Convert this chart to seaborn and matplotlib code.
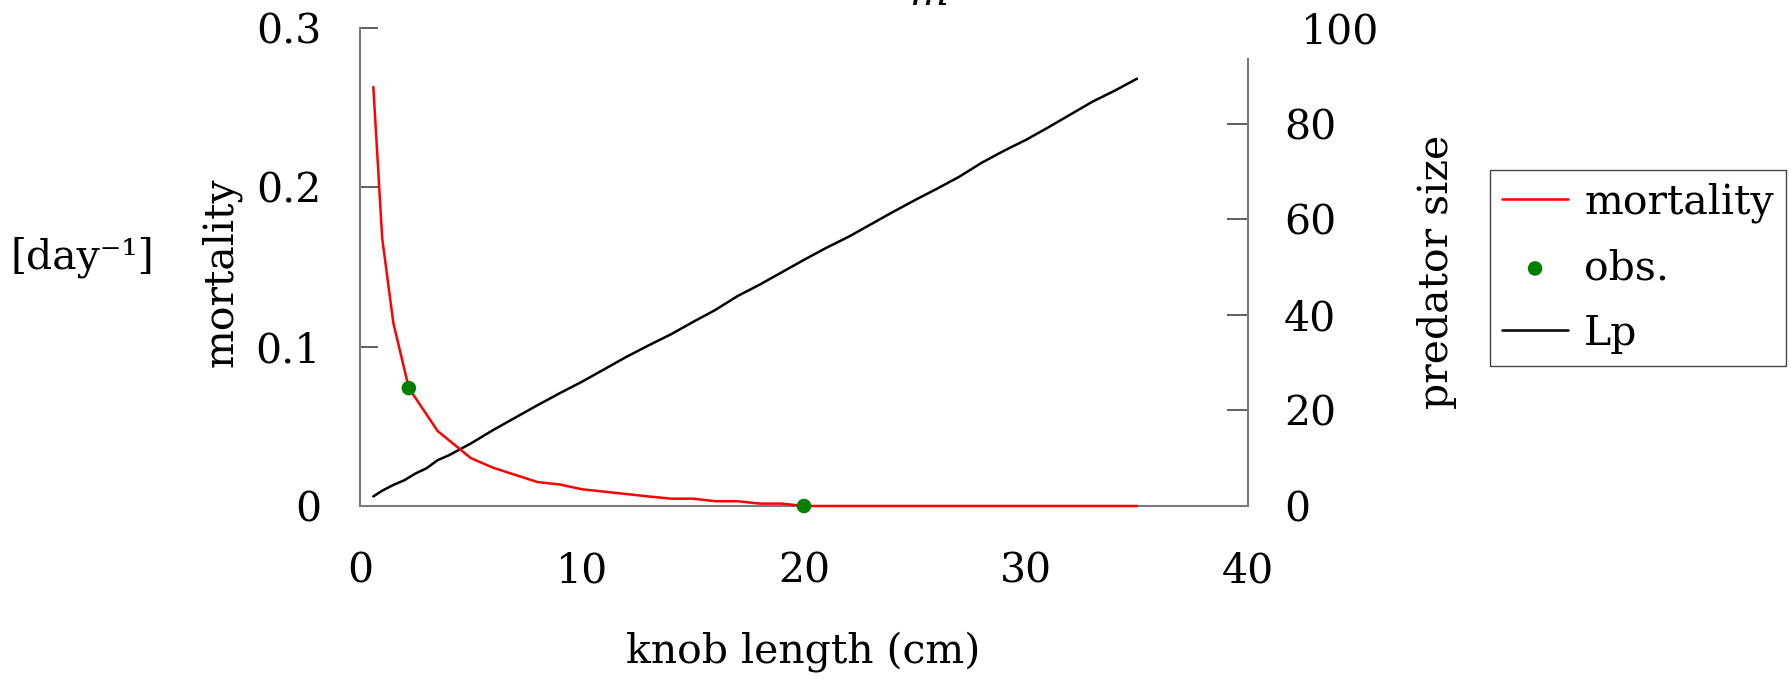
"""
Mortality and predator size against knob length, two y axes
"""
import matplotlib
matplotlib.use("Agg")
import matplotlib.pyplot as plt
from matplotlib.transforms import ScaledTranslation
import seaborn as sns
import pandas

# mortality curve [day-1] against knob length (cm)
knob_mort = [0.6, 1.0, 1.5, 2.2, 3.5, 5, 6, 8, 9, 10, 11, 12, 13, 14, 15, 16, 17, 18, 19, 20, 35]
mortality = [0.263, 0.168, 0.115, 0.074, 0.047, 0.030, 0.024, 0.015, 0.0135, 0.0105, 0.009,
             0.0075, 0.006, 0.0046, 0.0046, 0.003, 0.003, 0.0015, 0.0015, 0.0, 0.0]

# observed points
knob_obs = [2.2, 20.0]
mort_obs = [0.074, 0.0]

# predator size Lp
knob_lp = [0.6, 1.0, 1.5, 2.0, 2.5, 3.0, 3.5, 4.0, 5, 6, 7, 8, 9, 10, 11, 12, 13, 14, 15, 16, 17, 18,
           19, 20, 21, 22, 23, 24, 25, 26, 27, 28, 29, 30, 31, 32, 33, 34, 35]
lp = [2.0, 3.2, 4.4, 5.4, 6.8, 7.9, 9.6, 10.6, 13.1, 15.9, 18.5, 21.1, 23.6, 26.0, 28.6, 31.2, 33.6,
      35.9, 38.5, 41.0, 43.9, 46.3, 48.9, 51.5, 54.0, 56.3, 58.9, 61.5, 64.0, 66.4, 68.9, 71.8, 74.3,
      76.6, 79.2, 81.9, 84.6, 86.9, 89.4]

sns.set_theme(style="white")
plt.rcParams['font.family'] = ['DejaVu Serif']
plt.rcParams['mathtext.fontset'] = 'dejavuserif'
plt.rcParams['text.color'] = 'black'
plt.rcParams['axes.labelcolor'] = 'black'
plt.rcParams['xtick.color'] = 'black'
plt.rcParams['ytick.color'] = 'black'
fs = 29.5

df_mort = pandas.DataFrame({'knob': knob_mort, 'mortality': mortality})
df_obs = pandas.DataFrame({'knob': knob_obs, 'mortality': mort_obs})
df_lp = pandas.DataFrame({'knob': knob_lp, 'Lp': lp})

fig = plt.figure(figsize=(17.91, 6.8), dpi=100)
ax = fig.add_axes([360 / 1791, 1 - 506 / 680, 888 / 1791, 478 / 680])
ax2 = ax.twinx()

sns.lineplot(data=df_mort, x='knob', y='mortality', color='#ff0000', lw=1.8, ax=ax, label='mortality',
             clip_on=False, zorder=4)
sns.scatterplot(data=df_obs, x='knob', y='mortality', color='#008000', s=110, edgecolor='none',
                ax=ax, label='obs.', zorder=5, clip_on=False)
sns.lineplot(data=df_lp, x='knob', y='Lp', color='black', lw=1.8, ax=ax2, label='Lp')

ax.set_xlim(0, 40)
ax.set_ylim(0, 0.3)
ax2.set_ylim(0, 100)
ax.set_xticks([0, 10, 20, 30, 40])
ax.set_xticklabels(['0', '10', '20', '30', '40'])
ax.set_yticks([0, 0.1, 0.2, 0.3])
ax.set_yticklabels(['0', '0.1', '0.2', '0.3'])
ax2.set_yticks([0, 20, 40, 60, 80, 100])

spine_col = '#7a7a7a'
for a in (ax, ax2):
    for s in a.spines.values():
        s.set_color(spine_col)
        s.set_linewidth(1.5)
    a.spines['top'].set_visible(False)
ax.spines['right'].set_visible(False)
ax2.spines['left'].set_visible(False)
ax2.spines['bottom'].set_visible(False)
ax2.spines['right'].set_bounds(0, 93.6)
# put the mortality axes in front so the red line sits over the bottom spine
ax.set_zorder(ax2.get_zorder() + 1)
ax.patch.set_visible(False)

ax.tick_params(axis='x', direction='in', length=14, width=1.2, color='#444444', labelsize=fs, pad=33)
ax.tick_params(axis='y', direction='in', length=13, width=1.2, color='#444444', labelsize=fs, pad=28)
ax2.tick_params(axis='y', direction='in', length=15, width=1.2, color='#444444', labelsize=fs, pad=26)
top_tick = ax2.yaxis.get_major_ticks()[-1]
top_tick.tick1line.set_visible(False)
top_tick.tick2line.set_visible(False)
# the 100 label sits a bit further right than the others
lab = top_tick.label2
lab.set_transform(lab.get_transform() + ScaledTranslation(0.17, 0, fig.dpi_scale_trans))

ax.set_xlabel('knob length (cm)', fontsize=fs)
ax.xaxis.set_label_coords(0.499, -0.262)
ax.set_ylabel('mortality', fontsize=fs)
ax.yaxis.set_label_coords(-0.133, 0.49)
ax2.set_ylabel('predator size', fontsize=fs)
ax2.yaxis.set_label_coords(1.19, 0.49)

fig.text(0.006, 1 - 257 / 680, '[day\u207b\u00b9]', fontsize=fs, va='center', ha='left')
# title mostly outside the picture, only the subscript peeks in
fig.text(928 / 1791, 1 - 5 / 680, r'$m$', fontsize=fs, ha='center', va='baseline')

h1, l1 = ax.get_legend_handles_labels()
h2, l2 = ax2.get_legend_handles_labels()
ax.get_legend().remove()
ax2.get_legend().remove()
leg = ax.legend(h1 + h2, l1 + l2, loc='upper left', bbox_to_anchor=(1490 / 1791, 1 - 170 / 680),
                bbox_transform=fig.transFigure, borderaxespad=0, fontsize=fs, frameon=True,
                fancybox=False, framealpha=1, edgecolor='#444444', handlelength=1.6,
                handletextpad=0.4, labelspacing=0.62, borderpad=0.3)
leg.get_frame().set_linewidth(1.0)

fig.savefig('out.png', dpi=100)
